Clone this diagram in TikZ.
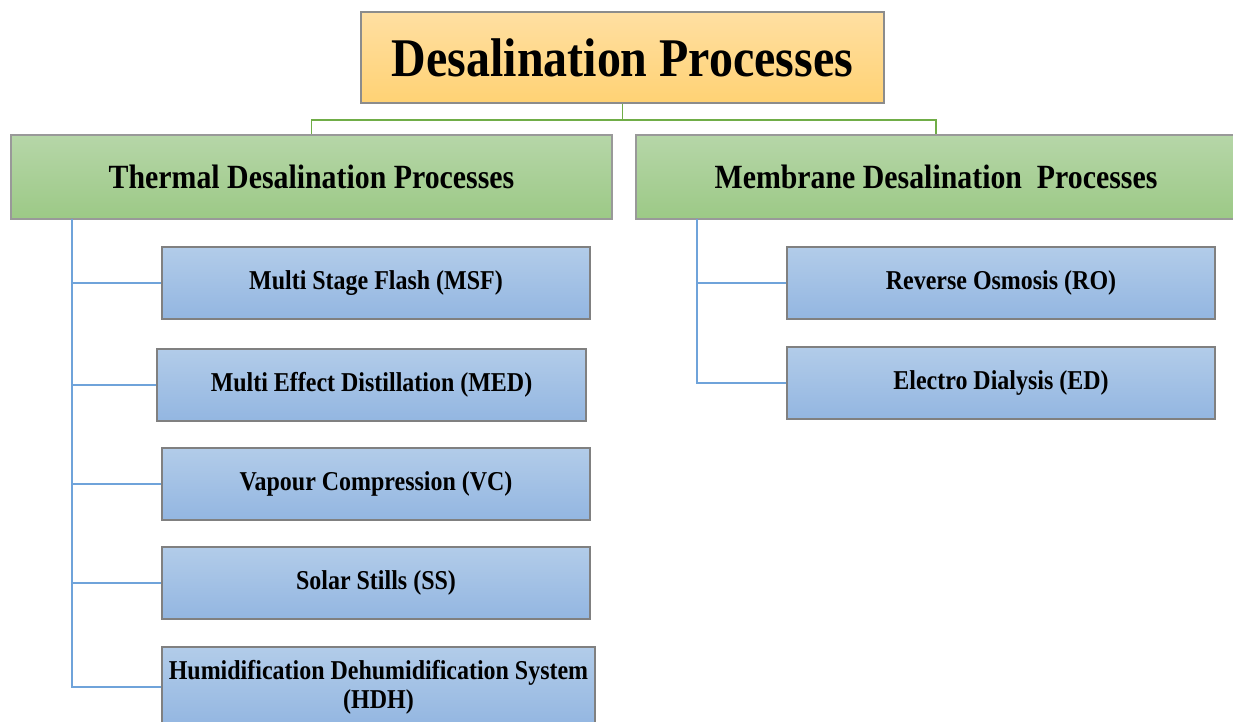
\documentclass[tikz,border=0pt]{standalone}
\usepackage{fontspec}
\newfontfamily\boxfont[FakeStretch=0.88]{Liberation Serif}
\usetikzlibrary{positioning}

\definecolor{orangetop}{HTML}{FFDFA2}
\definecolor{orangebot}{HTML}{FFD274}
\definecolor{greentop}{HTML}{B6D6A8}
\definecolor{greenbot}{HTML}{9CC986}
\definecolor{bluetop}{HTML}{B2CCE9}
\definecolor{bluebot}{HTML}{93B6E1}
\definecolor{greenline}{HTML}{70AD47}
\definecolor{blueline}{HTML}{6FA3DA}

\begin{document}
\begin{tikzpicture}[
    x=0.02cm, y=-0.02cm,
    % Styles
    title/.style={% The main box on top
        rectangle,
        draw=black!45,
        thick,
        top color=orangetop,
        bottom color=orangebot,
        minimum width=10.46cm,
        minimum height=1.82cm,
        font=\boxfont\bfseries\fontsize{31}{36}\selectfont,
        },
    group/.style={% For the two families of processes
        rectangle,
        draw=black!40,
        thick,
        top color=greentop,
        bottom color=greenbot,
        minimum width=12.02cm,
        minimum height=1.68cm,
        font=\boxfont\bfseries\fontsize{19.3}{23}\selectfont,
        },
    item/.style={% For the single processes
        rectangle,
        draw=black!50,
        thick,
        top color=bluetop,
        bottom color=bluebot,
        minimum width=8.56cm,
        minimum height=1.44cm,
        align=center,
        font=\boxfont\bfseries\fontsize{15.5}{17.5}\selectfont,
        },
    GroupLine/.style={% Lines from the title to the groups
        draw=greenline,
        line width=1pt,
        },
    ItemLine/.style={% Lines from a group to its items
        draw=blueline,
        line width=1.1pt,
        },
    ]

    \useasboundingbox (0,0) rectangle (1233,722);

    % Title
    \node [title] (desal) at (622.5,57.5) {Desalination Processes};

    % Groups
    \node [group] (thermal) at (311.5,177) {Thermal Desalination Processes};
    \node [group, minimum width=12cm] (membrane) at (936,177) {Membrane Desalination \ Processes};

    % Thermal processes
    \node [item] (msf) at (376,283) {Multi Stage Flash (MSF)};
    \node [item, minimum width=8.58cm] (med) at (371.5,385) {Multi Effect Distillation (MED)};
    \node [item] (vc) at (376,484) {Vapour Compression (VC)};
    \node [item] (ss) at (376,583) {Solar Stills (SS)};
    \node [item, minimum width=8.66cm, minimum height=1.6cm] (hdh) at (378.5,687)
        {Humidification Dehumidification System\\[-1pt](HDH)};

    % Membrane processes
    \node [item] (ro) at (1001,283) {Reverse Osmosis (RO)};
    \node [item] (ed) at (1001,383) {Electro Dialysis (ED)};

    % Title to the groups
    \coordinate (split) at (622.5,120);
    \draw [GroupLine] (desal) -- (split) -| (thermal);
    \draw [GroupLine] (split) -| (membrane);

    % Thermal group to its items
    \coordinate (tspine) at (72,219);
    \draw [ItemLine] (tspine) |- (hdh);
    \draw [ItemLine] (tspine |- msf) -- (msf);
    \draw [ItemLine] (tspine |- med) -- (med);
    \draw [ItemLine] (tspine |- vc) -- (vc);
    \draw [ItemLine] (tspine |- ss) -- (ss);

    % Membrane group to its items
    \coordinate (mspine) at (697,219);
    \draw [ItemLine] (mspine) |- (ed);
    \draw [ItemLine] (mspine |- ro) -- (ro);

\end{tikzpicture}
\end{document}
